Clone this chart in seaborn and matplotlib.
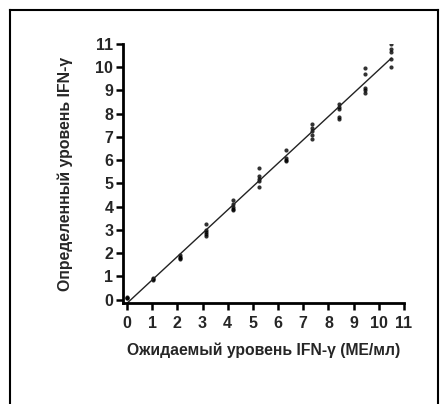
import numpy as np
import pandas as pd
import matplotlib
matplotlib.use("Agg")
import matplotlib.pyplot as plt
import seaborn as sns
from matplotlib.lines import Line2D

# expected IFN-gamma levels (x) and measured replicates (y)
expected = [0.0, 1.05, 2.1, 3.15, 4.2, 5.25, 6.3, 7.35, 8.4, 9.45, 10.5]
measured = [
    [0.05, 0.08, 0.1],
    [0.85, 0.9, 0.93],
    [1.75, 1.8, 1.85, 1.9],
    [2.75, 2.8, 2.9, 3.0, 3.25],
    [3.85, 3.9, 4.0, 4.1, 4.3],
    [4.85, 5.1, 5.2, 5.3, 5.65],
    [5.95, 6.0, 6.1, 6.45],
    [6.9, 7.1, 7.25, 7.4, 7.55],
    [7.75, 7.85, 8.2, 8.3, 8.4],
    [8.9, 9.0, 9.1, 9.7, 9.95],
    [10.0, 10.35, 10.65, 10.8, 11.0],
]
ticks = list(range(0, 12))
xlabel = "Ожидаемый уровень IFN-γ (МЕ/мл)"
ylabel = "Определенный уровень IFN-γ"

xs, ys = [], []
for e, vals in zip(expected, measured):
    for v in vals:
        xs.append(e)
        ys.append(v)
df = pd.DataFrame({"x": xs, "y": ys})

sns.set_theme(style="ticks")
plt.rcParams['font.family'] = ['Liberation Sans', 'DejaVu Sans']

fig = plt.figure(figsize=(4.42, 4.04), dpi=100)
ax = fig.add_axes([123/442, 101/404, 281/442, 259/404])

sns.regplot(data=df, x="x", y="y", ax=ax, ci=None, truncate=True,
            scatter_kws=dict(s=9, color="black", linewidths=0),
            line_kws=dict(color="#222222", lw=1.0))

ax.set_xlim(-0.16, 11.0)
ax.set_ylim(-0.15, 11.0)
ax.set_xticks(ticks)
ax.set_yticks(ticks)
ax.set_xticklabels([str(t) for t in ticks], fontweight="bold", fontsize=11.5)
ax.set_yticklabels([str(t) for t in ticks], fontweight="bold", fontsize=11.5)
ax.tick_params(axis="both", direction="out", length=5, width=1.8, color="black", pad=2)
ax.tick_params(axis="x", pad=4)
for s in ["left", "bottom"]:
    ax.spines[s].set_linewidth(2)
    ax.spines[s].set_color("black")
for s in ["top", "right"]:
    ax.spines[s].set_visible(False)
ax.set_xlabel(xlabel, fontweight="bold", fontsize=11.3, labelpad=9)
ax.set_ylabel(ylabel, fontweight="bold", fontsize=11.4, labelpad=16)

# outer frame
for (x0, y0, x1, y1) in [(9.5/442, 0, 9.5/442, 1 - 9.5/404),
                         (9.5/442, 1 - 9.5/404, 438/442, 1 - 9.5/404),
                         (438/442, 1 - 9.5/404, 438/442, 0)]:
    fig.add_artist(Line2D([x0, x1], [y0, y1], color="black", lw=1.5,
                          transform=fig.transFigure, solid_capstyle="projecting"))

fig.savefig("out.png", dpi=100)
